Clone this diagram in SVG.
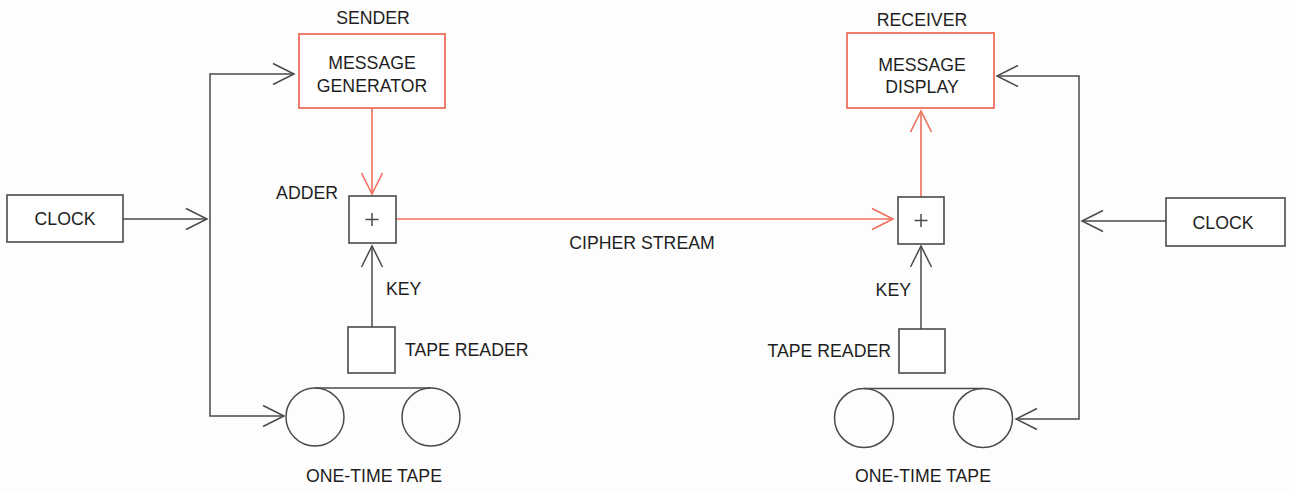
<svg xmlns="http://www.w3.org/2000/svg" width="1295" height="491" viewBox="0 0 1295 491">
<style>
text{font-family:"Liberation Sans",Arial,sans-serif;font-size:17.7px;fill:#1e1e1e}
.m{text-anchor:middle}
.e{text-anchor:end}
.box{fill:#fff;stroke:#4a4a4a;stroke-width:1.6}
.rbox{fill:#fff;stroke:#ef6f5c;stroke-width:1.8}
.ln{fill:none;stroke:#4a4a4a;stroke-width:1.5}
.rl{fill:none;stroke:#ef6f5c;stroke-width:1.6}
</style>
<defs>
<marker id="ag" viewBox="-23 -13 25 26" markerWidth="25" markerHeight="26" refX="0" refY="0" markerUnits="userSpaceOnUse" orient="auto"><path d="M-21,-10.5 L0,0 L-21,10.5" fill="none" stroke="#4a4a4a" stroke-width="1.5"/></marker>
<marker id="ar" viewBox="-23 -13 25 26" markerWidth="25" markerHeight="26" refX="0" refY="0" markerUnits="userSpaceOnUse" orient="auto"><path d="M-21,-10.5 L0,0 L-21,10.5" fill="none" stroke="#ef6f5c" stroke-width="1.6"/></marker>
</defs>
<rect width="1295" height="491" fill="#fdfdfd"/>
<g id="connectors">
<path class="ln" d="M123,219 H207" marker-end="url(#ag)"/>
<path class="ln" d="M210,219 V74 H294" marker-end="url(#ag)"/>
<path class="ln" d="M210,219 V416 H284" marker-end="url(#ag)"/>
<path class="rl" d="M372,108 V194" marker-end="url(#ar)"/>
<path class="ln" d="M372,327 V246" marker-end="url(#ag)"/>
<path class="rl" d="M396,219 H893" marker-end="url(#ar)"/>
<path class="rl" d="M921,197 V111" marker-end="url(#ar)"/>
<path class="ln" d="M921,329 V246" marker-end="url(#ag)"/>
<path class="ln" d="M1166,221 H1082" marker-end="url(#ag)"/>
<path class="ln" d="M1079,221 V76 H997" marker-end="url(#ag)"/>
<path class="ln" d="M1079,221 V419 H1016" marker-end="url(#ag)"/>
</g>
<g id="sender">
<text class="m" x="373" y="24">SENDER</text>
</g>
<g id="message-generator">
<rect class="rbox" x="299" y="34" width="146" height="74"/>
<text class="m" x="372" y="69">MESSAGE</text>
<text class="m" x="372" y="92">GENERATOR</text>
</g>
<g id="clock-left">
<rect class="box" x="7" y="195" width="116" height="47"/>
<text class="m" x="65" y="225">CLOCK</text>
</g>
<g id="adder-left">
<text class="e" x="338" y="199">ADDER</text>
<rect class="box" x="349" y="196" width="47" height="47"/>
<path class="ln" d="M372,213 V226 M365.5,219.5 H378.5" stroke-width="1.2"/>
</g>
<g id="key-left"><text x="386" y="295">KEY</text></g>
<g id="tape-reader-left">
<rect class="box" x="348" y="327" width="47" height="46"/>
<text x="405" y="356">TAPE READER</text>
</g>
<g id="tape-left">
<circle class="ln" cx="315" cy="417" r="29"/>
<circle class="ln" cx="431" cy="417" r="29"/>
<path class="ln" d="M315,388 H431"/>
<text class="m" x="374" y="482">ONE-TIME TAPE</text>
</g>
<g id="cipher-label"><text class="m" x="642" y="249">CIPHER STREAM</text></g>
<g id="receiver">
<text class="m" x="922" y="26">RECEIVER</text>
</g>
<g id="message-display">
<rect class="rbox" x="847" y="33" width="147" height="75"/>
<text class="m" x="922" y="71">MESSAGE</text>
<text class="m" x="922" y="93">DISPLAY</text>
</g>
<g id="adder-right">
<rect class="box" x="898" y="197" width="46" height="47"/>
<path class="ln" d="M921,214 V227 M914.5,220.5 H927.5" stroke-width="1.2"/>
</g>
<g id="clock-right">
<rect class="box" x="1166" y="198" width="119" height="48"/>
<text class="m" x="1223" y="229">CLOCK</text>
</g>
<g id="key-right"><text class="e" x="911" y="296">KEY</text></g>
<g id="tape-reader-right">
<rect class="box" x="899" y="329" width="46" height="44"/>
<text class="e" x="891" y="357">TAPE READER</text>
</g>
<g id="tape-right">
<circle class="ln" cx="864" cy="418" r="29.5"/>
<circle class="ln" cx="983" cy="418" r="29.5"/>
<path class="ln" d="M864,388.5 H983"/>
<text class="m" x="923" y="482">ONE-TIME TAPE</text>
</g>
</svg>
